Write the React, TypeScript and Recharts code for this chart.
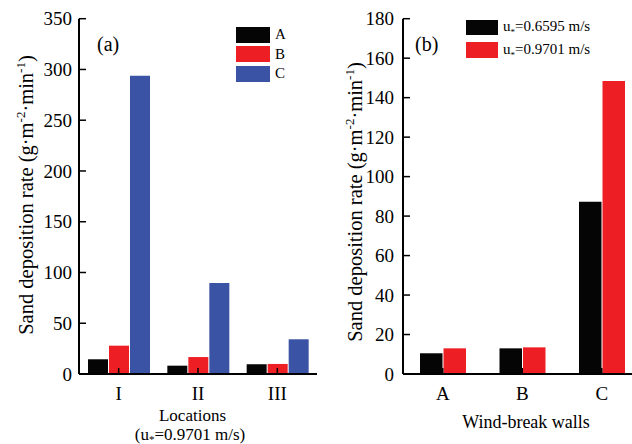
import { BarChart, Bar, XAxis, YAxis, Legend, Label } from "recharts";

const FONT = "Liberation Serif, Times New Roman, serif";

// panel (a): deposition per location, u* = 0.9701 m/s
const locations = ["I", "II", "III"];
const wallA = [14.5, 8.2, 9.5];
const wallB = [27.9, 16.7, 9.9];
const wallC = [293.9, 89.6, 34.2];
const ticksA = [0, 50, 100, 150, 200, 250, 300, 350];

// panel (b): deposition per wall, two friction velocities
const walls = ["A", "B", "C"];
const speedLabels = ["0.6595", "0.9701"];
const lowSpeed = [10.5, 13.0, 87.3];
const highSpeed = [13.0, 13.5, 148.4];
const ticksB = [0, 20, 40, 60, 80, 100, 120, 140, 160, 180];

const BLACK = "#050505";
const RED = "#ED1F24";
const BLUE = "#3A53A4";

const dataA = locations.map((loc, i) => ({ loc, A: wallA[i], B: wallB[i], C: wallC[i] }));
const dataB = walls.map((wall, i) => ({ wall, low: lowSpeed[i], high: highSpeed[i] }));

const tickStyle = { fontSize: 19, fill: "#000", fontFamily: FONT, style: { fontFamily: FONT } };
const txt = { fontFamily: FONT };

function YTitle({ x, y }: { x: number; y: number }) {
  return (
    <text
      x={x}
      y={y}
      transform={`rotate(-90, ${x}, ${y})`}
      textAnchor="middle"
      fontSize={20.5}
      fill="#000"
      style={txt}
    >
      Sand deposition rate (g·m
      <tspan dy={-8} fontSize={13}>-2</tspan>
      <tspan dy={8}>·min</tspan>
      <tspan dy={-8} fontSize={13}>-1</tspan>
      <tspan dy={8}>)</tspan>
    </text>
  );
}

const legendA = (props: any) => (
  <div style={{ fontFamily: FONT, fontSize: 15, color: "#000" }}>
    {(props.payload || []).map((p: any) => (
      <div key={p.value} style={{ display: "flex", alignItems: "center", height: 19.5 }}>
        <span style={{ display: "inline-block", width: 34, height: 16, background: p.color, marginRight: 5 }} />
        <span>{p.value}</span>
      </div>
    ))}
  </div>
);

const legendB = (props: any) => (
  <div style={{ fontFamily: FONT, fontSize: 15, color: "#000" }}>
    {(props.payload || []).map((p: any) => (
      <div key={p.value} style={{ display: "flex", alignItems: "center", height: 22.7 }}>
        <span style={{ display: "inline-block", width: 32, height: 15.5, background: p.color, marginRight: 5 }} />
        <span>
          u<sub style={{ fontSize: 9 }}>*</sub>={p.value} m/s
        </span>
      </div>
    ))}
  </div>
);

export default function App() {
  return (
    <div
      style={{
        position: "fixed",
        left: 0,
        top: 0,
        width: 632,
        height: 444,
        overflow: "hidden",
        background: "#fff",
        fontFamily: FONT,
      }}
    >
      <div style={{ position: "absolute", left: 0, top: 0 }}>
        <BarChart
          width={320}
          height={444}
          data={dataA}
          margin={{ top: 18.7, right: 3, bottom: 30, left: 0 }}
          barSize={20}
          barGap={1}
        >
          <Bar dataKey="A" name="A" fill={BLACK} isAnimationActive={false} />
          <Bar dataKey="B" name="B" fill={RED} isAnimationActive={false} />
          <Bar dataKey="C" name="C" fill={BLUE} isAnimationActive={false} />
          <XAxis
            dataKey="loc"
            height={40}
            interval={0}
            tick={tickStyle}
            tickSize={-6}
            tickMargin={19}
            tickLine={{ stroke: "#000", strokeWidth: 1.5 }}
            axisLine={{ stroke: "#000", strokeWidth: 2 }}
          >
            <Label
              content={() => (
                <g fill="#000" textAnchor="middle" style={txt}>
                  <text x={192.5} y={421} fontSize={17} style={txt}>Locations</text>
                  <text x={190} y={440} fontSize={17} style={txt}>
                    (u<tspan dy={3} fontSize={11}>*</tspan>
                    <tspan dy={-3}>=0.9701 m/s)</tspan>
                  </text>
                </g>
              )}
            />
          </XAxis>
          <YAxis
            width={79}
            domain={[0, 350]}
            ticks={ticksA}
            interval={0}
            tick={tickStyle}
            tickSize={-7}
            tickMargin={14}
            tickLine={{ stroke: "#000", strokeWidth: 1.5 }}
            axisLine={{ stroke: "#000", strokeWidth: 2 }}
          >
            <Label
              content={() => (
                <g>
                  <YTitle x={33} y={195} />
                  <text x={97} y={51} fontSize={20} fill="#000" style={txt}>(a)</text>
                </g>
              )}
            />
          </YAxis>
          <Legend
            content={legendA}
            layout="horizontal"
            verticalAlign="middle"
            align="center"
            wrapperStyle={{ position: "absolute", left: 236, top: 25, width: "auto", height: "auto" }}
          />
        </BarChart>
      </div>

      <div style={{ position: "absolute", left: 320, top: 0 }}>
        <BarChart
          width={330}
          height={444}
          data={dataB}
          margin={{ top: 18.7, right: 8.5, bottom: 30, left: 0 }}
          barSize={22.5}
          barGap={1}
        >
          <Bar dataKey="low" name={speedLabels[0]} fill={BLACK} isAnimationActive={false} />
          <Bar dataKey="high" name={speedLabels[1]} fill={RED} isAnimationActive={false} />
          <XAxis
            dataKey="wall"
            height={40}
            interval={0}
            tick={tickStyle}
            tickSize={-6}
            tickMargin={19}
            tickLine={{ stroke: "#000", strokeWidth: 1.5 }}
            axisLine={{ stroke: "#000", strokeWidth: 2 }}
          >
            <Label
              content={() => (
                <text x={206} y={428} fontSize={18} fill="#000" textAnchor="middle" style={txt}>
                  Wind-break walls
                </text>
              )}
            />
          </XAxis>
          <YAxis
            width={83}
            domain={[0, 180]}
            ticks={ticksB}
            interval={0}
            tick={tickStyle}
            tickSize={-7}
            tickMargin={16}
            tickLine={{ stroke: "#000", strokeWidth: 1.5 }}
            axisLine={{ stroke: "#000", strokeWidth: 2 }}
          >
            <Label
              content={() => (
                <g>
                  <YTitle x={41.7} y={202} />
                  <text x={95} y={51} fontSize={20} fill="#000" style={txt}>(b)</text>
                </g>
              )}
            />
          </YAxis>
          <Legend
            content={legendB}
            layout="horizontal"
            verticalAlign="middle"
            align="center"
            wrapperStyle={{ position: "absolute", left: 146, top: 16, width: "auto", height: "auto" }}
          />
        </BarChart>
      </div>
    </div>
  );
}
